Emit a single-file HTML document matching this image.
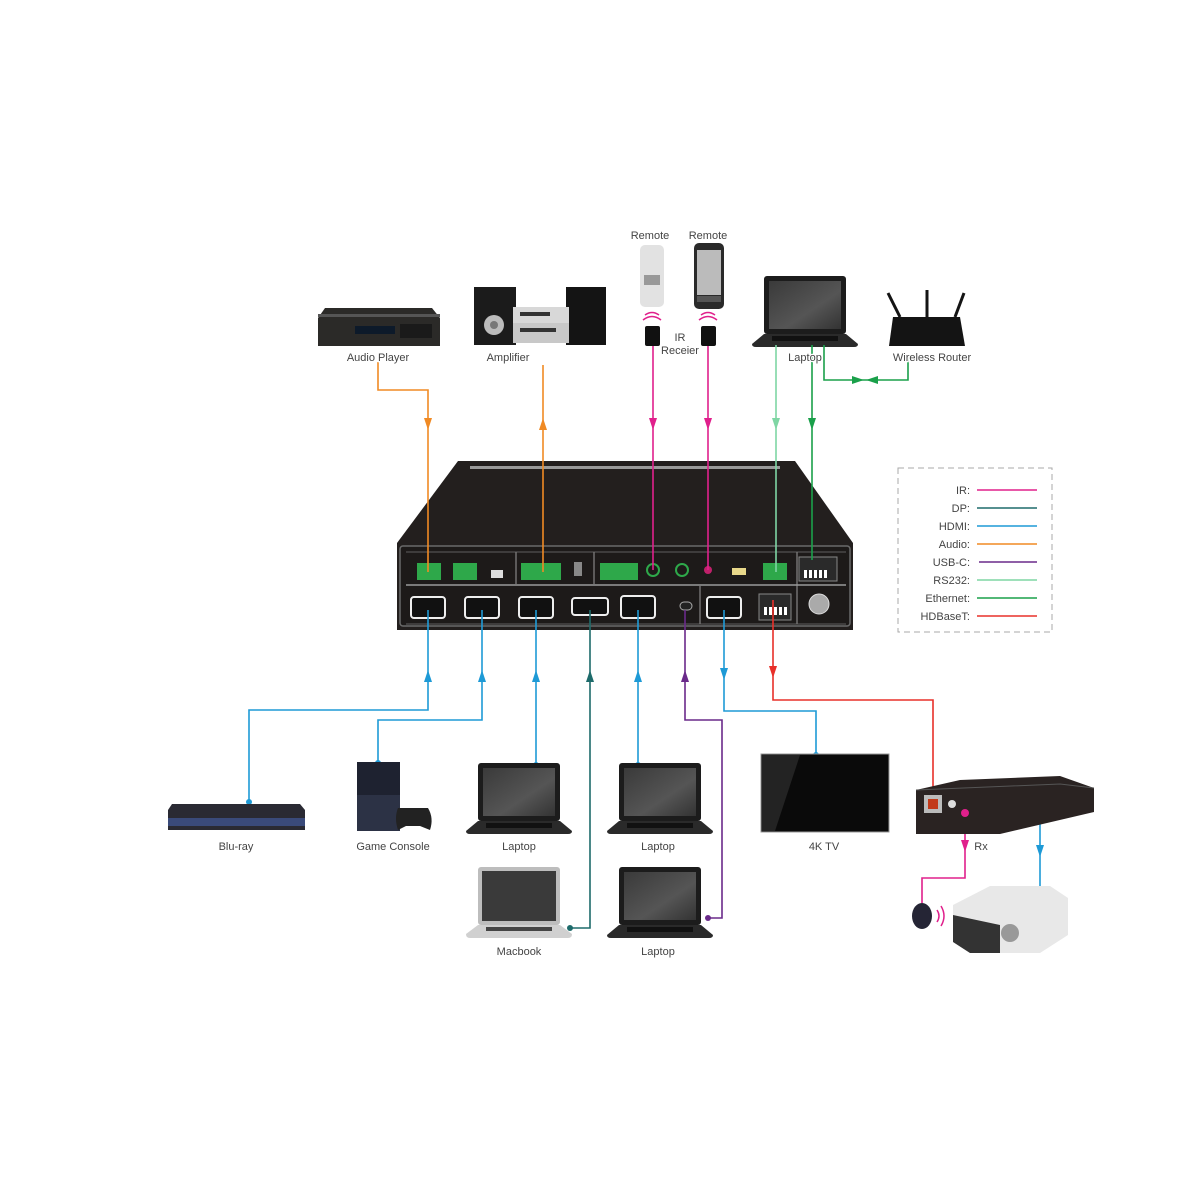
<!DOCTYPE html>
<html><head><meta charset="utf-8"><style>
html,body{margin:0;padding:0;background:#fff}
svg{display:block}
text{font-family:"Liberation Sans",sans-serif;font-size:11px;fill:#444}
</style></head><body>
<svg width="1200" height="1200" viewBox="0 0 1200 1200" xmlns="http://www.w3.org/2000/svg">
<defs>
<linearGradient id="scr" x1="0" y1="0" x2="1" y2="1"><stop offset="0" stop-color="#3a3a3a"/><stop offset="0.6" stop-color="#555"/><stop offset="1" stop-color="#333"/></linearGradient>
<g id="laptop">
<rect x="12" y="0" width="82" height="58" rx="3" fill="#1c1c1c"/>
<rect x="17" y="5" width="72" height="48" fill="url(#scr)"/>
<path d="M12 58 H94 L106 68 Q106 71 102 71 H4 Q0 71 0 68 Z" fill="#2a2a2a"/>
<rect x="20" y="60" width="66" height="5" fill="#111"/>
</g>
<g id="mac">
<rect x="12" y="0" width="82" height="58" rx="3" fill="#bdbdbd"/>
<rect x="16" y="4" width="74" height="50" fill="#3a3a3a"/>
<path d="M12 58 H94 L106 67 Q106 71 102 71 H4 Q0 71 0 67 Z" fill="#d0d0d0"/>
<rect x="20" y="60" width="66" height="4" fill="#444"/>
</g>
</defs>

<!-- audio player -->
<path d="M325 308 H432 L440 318 V346 H318 V318 Z" fill="#2b2a28"/>
<rect x="318" y="314" width="122" height="3" fill="#555"/>
<rect x="355" y="326" width="40" height="8" fill="#0d1a2a"/>
<rect x="400" y="324" width="32" height="14" fill="#1a1a1a"/>
<!-- amplifier -->
<rect x="474" y="287" width="42" height="58" fill="#1b1b1b"/>
<circle cx="494" cy="325" r="10" fill="#bbb"/><circle cx="494" cy="325" r="4" fill="#777"/>
<rect x="566" y="287" width="40" height="58" fill="#141414"/>
<rect x="513" y="307" width="56" height="16" fill="#d8d8d8"/>
<rect x="513" y="323" width="56" height="20" fill="#c8c8c8"/>
<rect x="520" y="328" width="36" height="4" fill="#333"/>
<rect x="520" y="312" width="30" height="4" fill="#333"/>
<!-- remotes -->
<rect x="640" y="245" width="24" height="62" rx="5" fill="#e2e2e2"/>
<rect x="644" y="275" width="16" height="10" fill="#999"/>
<rect x="694" y="243" width="30" height="66" rx="5" fill="#2a2a2a"/>
<rect x="697" y="250" width="24" height="45" fill="#bbb"/>
<rect x="697" y="296" width="24" height="6" fill="#555"/>
<path d="M645 315 Q652 310 659 315 M643 320 Q652 313 661 320" stroke="#e0208c" fill="none" stroke-width="1.5"/>
<path d="M701 315 Q708 310 715 315 M699 320 Q708 313 717 320" stroke="#e0208c" fill="none" stroke-width="1.5"/>
<rect x="645" y="326" width="15" height="20" rx="2" fill="#111"/>
<rect x="701" y="326" width="15" height="20" rx="2" fill="#111"/>
<use href="#laptop" x="752" y="276"/>
<!-- router -->
<path d="M893 317 H960 L965 346 H889 Z" fill="#141414"/>
<line x1="900" y1="317" x2="888" y2="293" stroke="#141414" stroke-width="3"/>
<line x1="927" y1="317" x2="927" y2="290" stroke="#141414" stroke-width="3"/>
<line x1="955" y1="317" x2="964" y2="293" stroke="#141414" stroke-width="3"/>

<!-- main device -->
<path d="M458 461 H795 L853 543 V630 H397 V543 Z" fill="#231f1e"/>
<rect x="470" y="466" width="310" height="3" fill="#9a9a9a"/>
<rect x="400" y="546" width="450" height="80" rx="3" fill="#1d1a19" stroke="#6a6a6a" stroke-width="1.5"/>
<line x1="406" y1="585" x2="846" y2="585" stroke="#9a9a9a" stroke-width="1.5"/>
<line x1="516" y1="552" x2="516" y2="584" stroke="#9a9a9a"/>
<line x1="594" y1="552" x2="594" y2="584" stroke="#9a9a9a"/>
<line x1="797" y1="552" x2="797" y2="624" stroke="#9a9a9a"/>
<line x1="700" y1="586" x2="700" y2="624" stroke="#9a9a9a"/>
<line x1="406" y1="552" x2="846" y2="552" stroke="#777" stroke-width="0.8"/>
<line x1="406" y1="624" x2="846" y2="624" stroke="#777" stroke-width="0.8"/>
<g fill="#2ea84a">
<rect x="417" y="563" width="24" height="17"/><rect x="453" y="563" width="24" height="17"/>
<rect x="521" y="563" width="40" height="17"/><rect x="600" y="563" width="38" height="17"/>
<rect x="763" y="563" width="24" height="17"/>
</g>
<rect x="491" y="570" width="12" height="8" fill="#ddd"/>
<rect x="574" y="562" width="8" height="14" fill="#888"/>
<circle cx="653" cy="570" r="6" fill="none" stroke="#2ea84a" stroke-width="2"/>
<circle cx="682" cy="570" r="6" fill="none" stroke="#2ea84a" stroke-width="2"/>
<circle cx="708" cy="570" r="4" fill="#c0206a"/>
<rect x="732" y="568" width="14" height="7" fill="#e8d88a"/>
<rect x="799" y="557" width="38" height="24" fill="#2a2a2a" stroke="#888"/>
<g fill="#fff"><rect x="804" y="570" width="3" height="8"/><rect x="809" y="570" width="3" height="8"/><rect x="814" y="570" width="3" height="8"/><rect x="819" y="570" width="3" height="8"/><rect x="824" y="570" width="3" height="8"/></g>
<g fill="#111" stroke="#eee" stroke-width="2">
<rect x="411" y="597" width="34" height="21" rx="3"/><rect x="465" y="597" width="34" height="21" rx="3"/>
<rect x="519" y="597" width="34" height="21" rx="3"/><rect x="621" y="596" width="34" height="22" rx="3"/>
<rect x="707" y="597" width="34" height="21" rx="3"/><rect x="572" y="598" width="36" height="17" rx="3"/>
</g>
<rect x="680" y="602" width="12" height="8" rx="4" fill="#222" stroke="#aaa"/>
<rect x="759" y="594" width="32" height="26" fill="#2a2a2a" stroke="#888"/>
<g fill="#fff"><rect x="764" y="607" width="3" height="8"/><rect x="769" y="607" width="3" height="8"/><rect x="774" y="607" width="3" height="8"/><rect x="779" y="607" width="3" height="8"/><rect x="784" y="607" width="3" height="8"/></g>
<circle cx="819" cy="604" r="10" fill="#aaa" stroke="#ddd"/>

<g fill="none" stroke-width="1.6">
<path d="M378 362 V390 H428 V572" stroke="#f08a24"/>
<path d="M543 365 V572" stroke="#f08a24"/>
<path d="M653 346 V570" stroke="#e0208c"/>
<path d="M708 346 V570" stroke="#e0208c"/>
<path d="M776 345 V572" stroke="#7fd6a4"/>
<path d="M812 345 V560" stroke="#1aa04a"/>
<path d="M824 345 V380 H908 V355" stroke="#1aa04a"/>
</g>
<g>
<path d="M424 418 L432 418 L428 430 Z" fill="#f08a24"/>
<path d="M539 430 L547 430 L543 418 Z" fill="#f08a24"/>
<path d="M649 418 L657 418 L653 430 Z" fill="#e0208c"/>
<path d="M704 418 L712 418 L708 430 Z" fill="#e0208c"/>
<path d="M772 418 L780 418 L776 430 Z" fill="#7fd6a4"/>
<path d="M808 418 L816 418 L812 430 Z" fill="#1aa04a"/>
<path d="M852 376 L852 384 L864 380 Z M878 376 L878 384 L866 380 Z" fill="#1aa04a"/>
</g>

<g fill="none" stroke-width="1.6">
<path d="M428 610 V710 H249 V802" stroke="#1e9ad6"/>
<path d="M482 610 V720 H378 V765" stroke="#1e9ad6"/>
<path d="M536 610 V765" stroke="#1e9ad6"/>
<path d="M590 610 V928 H570" stroke="#1e6b6b"/>
<path d="M638 610 V765" stroke="#1e9ad6"/>
<path d="M685 610 V720 H722 V918 H708" stroke="#6a2a8a"/>
<path d="M724 610 V711 H816 V755" stroke="#1e9ad6"/>
<path d="M773 600 V700 H933 V800" stroke="#e8302a"/>
<path d="M1040 780 V900" stroke="#1e9ad6"/>
<path d="M965 815 V878 H922 V903" stroke="#e0208c"/>
</g>
<g>
<path d="M424 682 L432 682 L428 670 Z" fill="#1e9ad6"/>
<path d="M478 682 L486 682 L482 670 Z" fill="#1e9ad6"/>
<path d="M532 682 L540 682 L536 670 Z" fill="#1e9ad6"/>
<path d="M586 682 L594 682 L590 670 Z" fill="#1e6b6b"/>
<path d="M634 682 L642 682 L638 670 Z" fill="#1e9ad6"/>
<path d="M681 682 L689 682 L685 670 Z" fill="#6a2a8a"/>
<path d="M720 668 L728 668 L724 680 Z" fill="#1e9ad6"/>
<path d="M769 666 L777 666 L773 678 Z" fill="#e8302a"/>
<path d="M1036 845 L1044 845 L1040 857 Z" fill="#1e9ad6"/>
<path d="M961 840 L969 840 L965 852 Z" fill="#e0208c"/>
</g>
<g>
<circle cx="249" cy="802" r="3" fill="#1e9ad6"/><circle cx="378" cy="763" r="3" fill="#1e9ad6"/>
<circle cx="536" cy="765" r="3" fill="#1e9ad6"/><circle cx="638" cy="765" r="3" fill="#1e9ad6"/>
<circle cx="816" cy="755" r="3" fill="#1e9ad6"/><circle cx="570" cy="928" r="3" fill="#1e6b6b"/>
<circle cx="708" cy="918" r="3" fill="#6a2a8a"/>
</g>

<path d="M172 804 H300 L305 810 V830 H168 V810 Z" fill="#2a2a33"/>
<rect x="168" y="818" width="137" height="8" fill="#3a4a7a"/>
<path d="M357 762 H400 V831 H357 Z" fill="#1e2230"/>
<rect x="357" y="795" width="43" height="36" fill="#2c3245"/>
<path d="M398 808 H428 Q434 818 430 830 L420 826 H406 L398 830 Q394 818 398 808 Z" fill="#222"/>
<use href="#laptop" x="466" y="763"/>
<use href="#laptop" x="607" y="763"/>
<use href="#mac" x="466" y="867"/>
<use href="#laptop" x="607" y="867"/>
<rect x="761" y="754" width="128" height="78" fill="#0a0a0a" stroke="#999"/>
<path d="M762 755 H800 L775 831 H762 Z" fill="#333" opacity="0.6"/>
<!-- Rx -->
<path d="M916 790 L960 780 L1060 776 L1094 788 V812 L1000 834 H916 Z" fill="#2a2322"/>
<path d="M916 790 L1060 784 L1094 788" stroke="#555" fill="none"/>
<rect x="924" y="795" width="18" height="18" fill="#bbb"/><rect x="928" y="799" width="10" height="10" fill="#c23a1a"/>
<circle cx="952" cy="804" r="4" fill="#ddd"/><circle cx="965" cy="813" r="4" fill="#e0208c"/>
<!-- projector -->
<path d="M953 905 L990 886 H1050 L1068 898 V935 L1040 953 H970 L953 942 Z" fill="#e8e8e8"/>
<path d="M953 915 L1000 925 V953 H970 L953 942 Z" fill="#333"/>
<circle cx="1010" cy="933" r="9" fill="#999"/>
<ellipse cx="922" cy="916" rx="10" ry="13" fill="#252535"/>
<path d="M937 910 Q941 916 937 922 M941 906 Q947 916 941 926" stroke="#e0208c" fill="none" stroke-width="1.5"/>

<g text-anchor="middle" stroke="#fff" stroke-width="2.5" paint-order="stroke">
<text x="378" y="361">Audio Player</text>
<text x="508" y="361">Amplifier</text>
<text x="650" y="239">Remote</text>
<text x="708" y="239">Remote</text>
<text x="680" y="341">IR</text>
<text x="680" y="354">Receier</text>
<text x="805" y="361">Laptop</text>
<text x="932" y="361">Wireless Router</text>
<text x="236" y="850">Blu-ray</text>
<text x="393" y="850">Game Console</text>
<text x="519" y="850">Laptop</text>
<text x="658" y="850">Laptop</text>
<text x="824" y="850">4K TV</text>
<text x="981" y="850">Rx</text>
<text x="519" y="955">Macbook</text>
<text x="658" y="955">Laptop</text>
</g>

<rect x="898" y="468" width="154" height="164" fill="none" stroke="#aaa" stroke-dasharray="6 4"/>
<g text-anchor="end">
<text x="970" y="494">IR:</text><text x="970" y="512">DP:</text><text x="970" y="530">HDMI:</text>
<text x="970" y="548">Audio:</text><text x="970" y="566">USB-C:</text><text x="970" y="584">RS232:</text>
<text x="970" y="602">Ethernet:</text><text x="970" y="620">HDBaseT:</text>
</g>
<g stroke-width="1.6">
<line x1="977" y1="490" x2="1037" y2="490" stroke="#e0208c"/>
<line x1="977" y1="508" x2="1037" y2="508" stroke="#1e6b6b"/>
<line x1="977" y1="526" x2="1037" y2="526" stroke="#1e9ad6"/>
<line x1="977" y1="544" x2="1037" y2="544" stroke="#f08a24"/>
<line x1="979" y1="562" x2="1037" y2="562" stroke="#6a2a8a"/>
<line x1="977" y1="580" x2="1037" y2="580" stroke="#7fd6a4"/>
<line x1="977" y1="598" x2="1037" y2="598" stroke="#1aa04a"/>
<line x1="977" y1="616" x2="1037" y2="616" stroke="#e8302a"/>
</g>
</svg>
</body></html>
